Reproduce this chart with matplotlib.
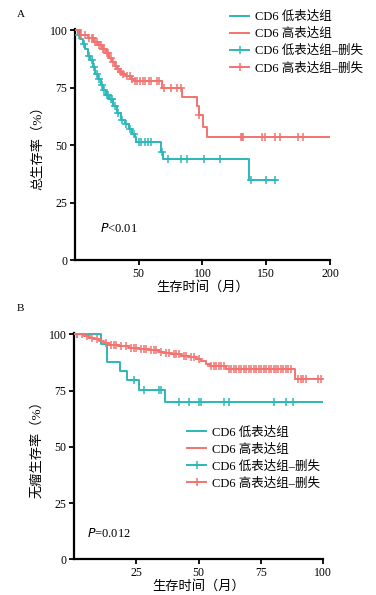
import numpy as np
import matplotlib
matplotlib.use("Agg")
import matplotlib.pyplot as plt
from matplotlib.lines import Line2D

plt.rcParams['font.family'] = ['Liberation Serif', 'Noto Sans CJK SC', 'DejaVu Sans']
plt.rcParams['axes.unicode_minus'] = False

TEAL = '#2cb8b9'
RED = '#f2736f'

# ---- panel A: overall survival ----
a_low_t = [0, 2, 4, 6, 8, 10, 12, 14, 16, 18, 20, 22, 24, 27, 30, 33, 36, 39, 42, 45, 47, 48, 67.5, 69, 136.5, 158]
a_low_s = [100, 98, 96, 94, 92, 89, 87, 84, 81, 79, 76, 74, 72, 70, 67, 64, 61, 59, 57, 55, 53.5, 51.3, 47, 43.8, 34.7, 34.7]
a_low_cens = [3, 7, 11, 13, 15, 17, 19, 21, 23, 25, 26, 28, 29, 31, 34, 37, 40, 43, 46, 50, 52, 55, 57, 60, 68,
              73, 83, 88, 101, 114, 138, 150, 157]

a_high_t = [0, 4, 10, 15, 18, 21, 24, 27, 29, 31, 33, 35, 37, 40, 44, 46, 68, 83.7, 95.4, 97, 100.6, 103.8, 200]
a_high_s = [100, 98, 96.5, 95, 93.5, 92, 90, 88, 86, 84.5, 83, 82, 81, 80, 79, 78, 75, 71, 67, 63, 58, 53.5, 53.5]
a_high_cens = [2, 5, 8, 11, 13, 14, 16, 17, 19, 20, 22, 23, 25, 26, 28, 30, 32, 34, 36, 38, 41, 43, 45, 47, 49,
               51, 53, 55, 58, 60, 64, 66, 70, 75, 80, 83, 97, 130, 131, 132, 147, 149, 157, 161, 175, 179]

# ---- panel B: disease-free survival ----
b_low_t = [0, 10.8, 13.1, 18.4, 21.1, 26.0, 36.5, 100]
b_low_s = [100, 95.6, 87.9, 83.5, 79.6, 75.4, 69.7, 69.7]
b_low_cens = [1, 24, 28, 34, 35, 42, 46, 50, 51, 60, 62, 80, 85, 88]

b_high_t = [0, 4, 6, 8, 10, 12, 14, 18, 22, 26, 30, 34, 36, 39, 43, 46, 49, 51, 53, 54.5, 61, 88.5, 100]
b_high_s = [100, 99.3, 98.5, 97.7, 96.9, 96.1, 95.1, 94.6, 94.1, 93.4, 92.9, 92.3, 91.9, 91.2, 90.5, 90, 89, 88.3, 86.7,
            85.7, 84.8, 80.2, 80.2]
b_high_cens = [1, 3, 5, 7, 9, 13, 15, 16, 17, 19, 21, 23, 24, 25, 27, 28, 29, 31, 32, 33, 35, 37, 38, 40, 41, 42,
               44, 45, 47, 48, 50, 55, 56, 57, 58, 59, 60, 62, 63, 64, 65, 66, 67, 68, 69, 70, 71, 72, 73, 74, 75,
               76, 77, 78, 79, 80, 81, 82, 83, 84, 85, 86, 87, 90, 91, 92, 93, 98, 99]

labels = ['CD6 低表达组', 'CD6 高表达组', 'CD6 低表达组–删失', 'CD6 高表达组–删失']


def step_value(times, surv, x):
    idx = np.searchsorted(times, x, side='right') - 1
    return np.asarray(surv)[idx]


def km_panel(ax, low_t, low_s, low_c, high_t, high_s, high_c):
    for t, s, c, col in [(low_t, low_s, low_c, TEAL), (high_t, high_s, high_c, RED)]:
        ax.step(t, s, where='post', color=col, lw=1.4, zorder=3)
        ax.plot(c, step_value(t, s, c), ls='none', marker='+', ms=6, mew=1.1, color=col, zorder=4)
    for side in ['top', 'right']:
        ax.spines[side].set_visible(False)
    for side in ['left', 'bottom']:
        ax.spines[side].set_linewidth(1.6)
    ax.tick_params(direction='out', length=3.5, width=1.3, labelsize=8.5, pad=2)
    ax.set_ylim(0, 100.5)
    ax.set_yticks([0, 25, 50, 75, 100])


def add_legend(ax, loc, anchor):
    handles = [Line2D([], [], color=TEAL, lw=1.4),
               Line2D([], [], color=RED, lw=1.4),
               Line2D([], [], color=TEAL, lw=1.4, marker='+', ms=6, mew=1.1),
               Line2D([], [], color=RED, lw=1.4, marker='+', ms=6, mew=1.1)]
    ax.legend(handles, labels, loc=loc, bbox_to_anchor=anchor, frameon=False, fontsize=9,
              handlelength=1.5, handletextpad=0.5, labelspacing=0.4, borderaxespad=0)


fig = plt.figure(figsize=(3.76, 5.95), dpi=100)

axA = fig.add_axes([0.1995, 0.563, 0.678, 0.388])
km_panel(axA, a_low_t, a_low_s, a_low_cens, a_high_t, a_high_s, a_high_cens)
axA.set_xlim(0, 200)
axA.set_xticks([50, 100, 150, 200])
axA.set_xlabel('生存时间（月）', fontsize=9.5, labelpad=1)
axA.set_ylabel('总生存率（%）', fontsize=9.5, labelpad=4)
axA.text(19.6, 13.9, r'$\it{P}$<0.01', fontsize=9, ha='left', va='center')
add_legend(axA, 'upper left', (0.59, 1.10))
fig.text(0.045, 0.975, 'A', fontsize=8, va='center')

axB = fig.add_axes([0.197, 0.06, 0.663, 0.38])
km_panel(axB, b_low_t, b_low_s, b_low_cens, b_high_t, b_high_s, b_high_cens)
axB.set_xlim(0, 100)
axB.set_xticks([25, 50, 75, 100])
axB.set_xlabel('生存时间（月）', fontsize=9.5, labelpad=1)
axB.set_ylabel('无瘤生存率（%）', fontsize=9.5, labelpad=4)
axB.text(5.2, 11.6, r'$\it{P}$=0.012', fontsize=9, ha='left', va='center')
add_legend(axB, 'upper left', (0.434, 0.61))
fig.text(0.045, 0.482, 'B', fontsize=8, va='center')

fig.savefig('out.png', dpi=100)
